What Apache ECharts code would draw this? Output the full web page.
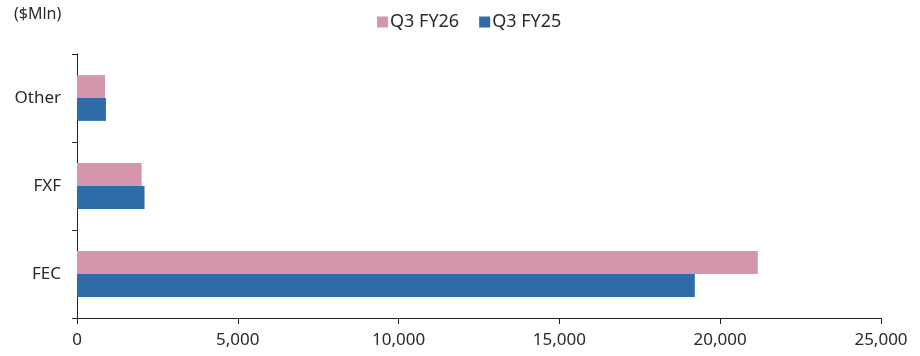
<!DOCTYPE html>
<html>
<head>
<meta charset="utf-8">
<script src="https://cdn.jsdelivr.net/npm/echarts@6/dist/echarts.min.js"></script>
<style>
  html, body { margin: 0; padding: 0; background: #fff; }
  #chart { width: 920px; height: 356px; }
</style>
</head>
<body>
<div id="chart"></div>
<script>
// Segments, bottom to top on the category axis
const categories = ['FEC', 'FXF', 'Other'];
const seriesNames = ['Q3 FY26', 'Q3 FY25'];
const fy26Values = [21170, 2010, 870];
const fy25Values = [19210, 2100, 900];
const unitLabel = '($Mln)';

const chart = echarts.init(document.getElementById('chart'));
const font = 'Noto Sans';
const textColor = '#2a2a2a';

chart.setOption({
  animation: false,
  textStyle: { fontFamily: font },
  graphic: [{
    type: 'text', left: 14, top: 6,
    style: { text: unitLabel, font: '16px "' + font + '"', fill: textColor }
  }],
  legend: {
    top: 8, left: 372,
    itemWidth: 11, itemHeight: 11, itemGap: 20,
    icon: 'rect',
    textStyle: { fontSize: 18, color: textColor, fontFamily: font, padding: [0, 0, 0, -3] },
    data: seriesNames
  },
  grid: { left: 77, right: 39, top: 54, bottom: 38, containLabel: false },
  xAxis: {
    type: 'value', min: 0, max: 25000, interval: 5000,
    axisLine: { show: true, lineStyle: { color: '#222', width: 1 } },
    axisTick: { show: true, length: 6, lineStyle: { color: '#222' } },
    splitLine: { show: false },
    axisLabel: {
      color: textColor, fontSize: 17, margin: 14,
      formatter: v => v.toLocaleString('en-US')
    }
  },
  yAxis: {
    type: 'category', data: categories,
    axisLine: { show: true, lineStyle: { color: '#222', width: 1 } },
    axisTick: { show: true, length: 5, lineStyle: { color: '#222' } },
    axisLabel: { color: textColor, fontSize: 17, margin: 16 }
  },
  series: [
    {
      name: seriesNames[0], type: 'bar', data: fy26Values,
      barGap: '0%', barCategoryGap: '48%',
      itemStyle: { color: '#D596AB' }
    },
    {
      name: seriesNames[1], type: 'bar', data: fy25Values,
      barGap: '0%', barCategoryGap: '48%',
      itemStyle: { color: '#2D6CA8' }
    }
  ]
});
</script>
</body>
</html>
